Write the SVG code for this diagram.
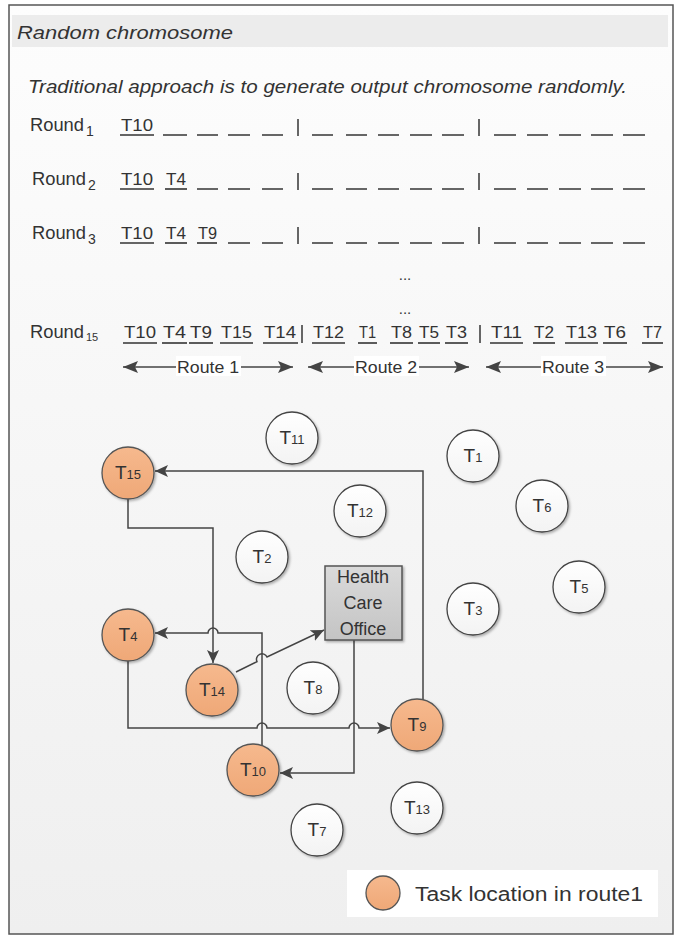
<svg xmlns="http://www.w3.org/2000/svg" width="680" height="937" viewBox="0 0 680 937">
<defs>
<linearGradient id="bg" x1="0" y1="0" x2="0" y2="1">
<stop offset="0" stop-color="#fdfdfd"/>
<stop offset="1" stop-color="#efefef"/>
</linearGradient>
<linearGradient id="wf" x1="0" y1="0" x2="0" y2="1">
<stop offset="0" stop-color="#ffffff"/>
<stop offset="1" stop-color="#f3f3f3"/>
</linearGradient>
<linearGradient id="of" x1="0" y1="0" x2="0" y2="1">
<stop offset="0" stop-color="#f6b98e"/>
<stop offset="1" stop-color="#efa877"/>
</linearGradient>
<linearGradient id="gf" x1="0" y1="0" x2="0" y2="1">
<stop offset="0" stop-color="#dadada"/>
<stop offset="1" stop-color="#c4c4c4"/>
</linearGradient>
<filter id="sh" x="-20%" y="-20%" width="150%" height="150%">
<feDropShadow dx="1.5" dy="1.5" stdDeviation="1.2" flood-color="#000" flood-opacity="0.3"/>
</filter>
<marker id="ah" markerUnits="userSpaceOnUse" markerWidth="14" markerHeight="12" refX="13" refY="6" orient="auto">
<path d="M0,0 L13,6 L0,12 L3,6 z" fill="#444"/>
</marker>
<marker id="rh" markerUnits="userSpaceOnUse" markerWidth="16" markerHeight="12" refX="15" refY="6" orient="auto-start-reverse">
<path d="M0,0 L15,6 L0,12 L3,6 z" fill="#444"/>
</marker>
</defs>
<style>
text{font-family:"Liberation Sans",Arial,sans-serif;fill:#333}
.it{font-style:italic}
.tok{font-size:17px}
.rd{font-size:18px}
.ul{stroke:#333;stroke-width:1.6}
.ds{stroke:#666;stroke-width:2.2}
.bar{stroke:#666;stroke-width:2}
.conn{fill:none;stroke:#444;stroke-width:1.5}
.cw{fill:url(#wf);stroke:#444;stroke-width:1.3;filter:url(#sh)}
.co{fill:url(#of);stroke:#555;stroke-width:1.3;filter:url(#sh)}
.lbT{font-size:19px;fill:#333}
.lbN{font-size:13px}
.rl{font-size:17px}
</style>

<rect x="9" y="5" width="664" height="929" fill="url(#bg)" stroke="#555" stroke-width="1.5"/>
<rect x="12" y="15" width="656" height="32" fill="#ececec"/>
<text class="it" x="17" y="39" font-size="19" textLength="216" lengthAdjust="spacingAndGlyphs">Random chromosome</text>
<text class="it" x="28" y="93" font-size="17.5" textLength="599" lengthAdjust="spacingAndGlyphs">Traditional approach is to generate output chromosome randomly.</text>

<g id="round1">
<text class="rd" x="30" y="131" textLength="54" lengthAdjust="spacingAndGlyphs">Round</text>
<text x="86" y="136" font-size="14">1</text>
<text class="tok" x="121" y="131" textLength="32" lengthAdjust="spacingAndGlyphs">T10</text>
<line class="ul" x1="120" y1="135" x2="154" y2="135"/>
<path class="ds" d="M163,135H187M197,135H218M228,135H250M262,135H283M312,135H333M346,135H367M378,135H399M410,135H432M442,135H464M494,135H516M527,135H548M559,135H581M591,135H613M623,135H645"/>
<path class="bar" d="M298,119V136M479,119V136"/>
</g>

<g id="round2">
<text class="rd" x="32" y="185" textLength="54" lengthAdjust="spacingAndGlyphs">Round</text>
<text x="88" y="190" font-size="14">2</text>
<text class="tok" x="121" y="185" textLength="32" lengthAdjust="spacingAndGlyphs">T10</text>
<line class="ul" x1="120" y1="189" x2="154" y2="189"/>
<text class="tok" x="166" y="185" textLength="20" lengthAdjust="spacingAndGlyphs">T4</text>
<line class="ul" x1="165" y1="189" x2="187" y2="189"/>
<path class="ds" d="M197,189H218M228,189H250M262,189H283M312,189H333M346,189H367M378,189H399M410,189H432M442,189H464M494,189H516M527,189H548M559,189H581M591,189H613M623,189H645"/>
<path class="bar" d="M298,173V190M479,173V190"/>
</g>

<g id="round3">
<text class="rd" x="32" y="239" textLength="54" lengthAdjust="spacingAndGlyphs">Round</text>
<text x="88" y="244" font-size="14">3</text>
<text class="tok" x="121" y="239" textLength="32" lengthAdjust="spacingAndGlyphs">T10</text>
<line class="ul" x1="120" y1="243" x2="154" y2="243"/>
<text class="tok" x="166" y="239" textLength="20" lengthAdjust="spacingAndGlyphs">T4</text>
<line class="ul" x1="165" y1="243" x2="187" y2="243"/>
<text class="tok" x="198" y="239" textLength="19" lengthAdjust="spacingAndGlyphs">T9</text>
<line class="ul" x1="197" y1="243" x2="217" y2="243"/>
<path class="ds" d="M228,243H250M262,243H283M312,243H333M346,243H367M378,243H399M410,243H432M442,243H464M494,243H516M527,243H548M559,243H581M591,243H613M623,243H645"/>
<path class="bar" d="M298,227V244M479,227V244"/>
</g>

<text x="405" y="280" font-size="15" text-anchor="middle">...</text>
<text x="405" y="314" font-size="15" text-anchor="middle">...</text>

<g id="round15">
<text class="rd" x="30" y="338" textLength="54" lengthAdjust="spacingAndGlyphs">Round</text>
<text x="86" y="341" font-size="11">15</text>
<text class="tok" x="124" y="338" textLength="32" lengthAdjust="spacingAndGlyphs">T10</text>
<line class="ul" x1="123" y1="343" x2="157" y2="343"/>
<text class="tok" x="163" y="338" textLength="23" lengthAdjust="spacingAndGlyphs">T4</text>
<line class="ul" x1="162" y1="343" x2="187" y2="343"/>
<text class="tok" x="190" y="338" textLength="22" lengthAdjust="spacingAndGlyphs">T9</text>
<line class="ul" x1="189" y1="343" x2="213" y2="343"/>
<text class="tok" x="221" y="338" textLength="31" lengthAdjust="spacingAndGlyphs">T15</text>
<line class="ul" x1="220" y1="343" x2="253" y2="343"/>
<text class="tok" x="264" y="338" textLength="32" lengthAdjust="spacingAndGlyphs">T14</text>
<line class="ul" x1="263" y1="343" x2="298" y2="343"/>
<path class="bar" d="M302,325V343M480,325V343"/>
<text class="tok" x="313" y="338" textLength="31" lengthAdjust="spacingAndGlyphs">T12</text>
<line class="ul" x1="312" y1="343" x2="345" y2="343"/>
<text class="tok" x="359" y="338" textLength="17" lengthAdjust="spacingAndGlyphs">T1</text>
<line class="ul" x1="358" y1="343" x2="377" y2="343"/>
<text class="tok" x="391" y="338" textLength="21" lengthAdjust="spacingAndGlyphs">T8</text>
<line class="ul" x1="390" y1="343" x2="413" y2="343"/>
<text class="tok" x="419" y="338" textLength="20" lengthAdjust="spacingAndGlyphs">T5</text>
<line class="ul" x1="418" y1="343" x2="440" y2="343"/>
<text class="tok" x="446" y="338" textLength="21" lengthAdjust="spacingAndGlyphs">T3</text>
<line class="ul" x1="445" y1="343" x2="468" y2="343"/>
<text class="tok" x="491" y="338" textLength="31" lengthAdjust="spacingAndGlyphs">T11</text>
<line class="ul" x1="490" y1="343" x2="523" y2="343"/>
<text class="tok" x="534" y="338" textLength="20" lengthAdjust="spacingAndGlyphs">T2</text>
<line class="ul" x1="533" y1="343" x2="555" y2="343"/>
<text class="tok" x="566" y="338" textLength="31" lengthAdjust="spacingAndGlyphs">T13</text>
<line class="ul" x1="565" y1="343" x2="598" y2="343"/>
<text class="tok" x="604" y="338" textLength="22" lengthAdjust="spacingAndGlyphs">T6</text>
<line class="ul" x1="603" y1="343" x2="627" y2="343"/>
<text class="tok" x="643" y="338" textLength="19" lengthAdjust="spacingAndGlyphs">T7</text>
<line class="ul" x1="642" y1="343" x2="663" y2="343"/>
</g>

<g id="routes">
<line x1="123" y1="367" x2="293" y2="367" stroke="#444" stroke-width="1.5" marker-start="url(#rh)" marker-end="url(#rh)"/>
<rect x="176" y="356" width="65" height="20" fill="#fff"/>
<text class="rl" x="208" y="373" text-anchor="middle" textLength="62" lengthAdjust="spacingAndGlyphs">Route 1</text>
<line x1="308" y1="367" x2="469" y2="367" stroke="#444" stroke-width="1.5" marker-start="url(#rh)" marker-end="url(#rh)"/>
<rect x="354" y="356" width="65" height="20" fill="#fff"/>
<text class="rl" x="386" y="373" text-anchor="middle" textLength="62" lengthAdjust="spacingAndGlyphs">Route 2</text>
<line x1="486" y1="367" x2="663" y2="367" stroke="#444" stroke-width="1.5" marker-start="url(#rh)" marker-end="url(#rh)"/>
<rect x="541" y="356" width="65" height="20" fill="#fff"/>
<text class="rl" x="573" y="373" text-anchor="middle" textLength="62" lengthAdjust="spacingAndGlyphs">Route 3</text>
</g>

<g id="connectors">
<path class="conn" d="M423,700 V471 H155" marker-end="url(#ah)"/>
<path class="conn" d="M128,499 V528 H213 V663" marker-end="url(#ah)"/>
<path class="conn" d="M262,746 V633 H218 A5,5 0 0 0 208,633 H155" marker-end="url(#ah)"/>
<path class="conn" d="M128,661 V728 H257 A5,5 0 0 1 267,728 H349 A5,5 0 0 1 359,728 H390" marker-end="url(#ah)"/>
<path class="conn" d="M354,640 V773 H280" marker-end="url(#ah)"/>
<path class="conn" d="M236,672 L257,661.7 A5.5,5.5 0 0 1 267,657 L324,630" marker-end="url(#ah)"/>
</g>

<g id="hco">
<rect x="325" y="566" width="77" height="74" fill="url(#gf)" stroke="#555" stroke-width="1.5" filter="url(#sh)"/>
<text x="363" y="583" font-size="18" text-anchor="middle">Health</text>
<text x="363" y="609" font-size="18" text-anchor="middle">Care</text>
<text x="363" y="635" font-size="18" text-anchor="middle">Office</text>
</g>

<g id="T15"><circle class="co" cx="128" cy="473" r="26"/><text class="lbT" x="128" y="479" text-anchor="middle">T<tspan class="lbN">15</tspan></text></g>
<g id="T11"><circle class="cw" cx="292" cy="438" r="26"/><text class="lbT" x="292" y="444" text-anchor="middle">T<tspan class="lbN">11</tspan></text></g>
<g id="T1"><circle class="cw" cx="473" cy="456" r="26"/><text class="lbT" x="473" y="462" text-anchor="middle">T<tspan class="lbN">1</tspan></text></g>
<g id="T6"><circle class="cw" cx="542" cy="506" r="26"/><text class="lbT" x="542" y="512" text-anchor="middle">T<tspan class="lbN">6</tspan></text></g>
<g id="T12"><circle class="cw" cx="360" cy="511" r="26"/><text class="lbT" x="360" y="517" text-anchor="middle">T<tspan class="lbN">12</tspan></text></g>
<g id="T2"><circle class="cw" cx="262" cy="557" r="26"/><text class="lbT" x="262" y="563" text-anchor="middle">T<tspan class="lbN">2</tspan></text></g>
<g id="T5"><circle class="cw" cx="579" cy="587" r="26"/><text class="lbT" x="579" y="593" text-anchor="middle">T<tspan class="lbN">5</tspan></text></g>
<g id="T3"><circle class="cw" cx="473" cy="609" r="26"/><text class="lbT" x="473" y="615" text-anchor="middle">T<tspan class="lbN">3</tspan></text></g>
<g id="T4"><circle class="co" cx="128" cy="635" r="26"/><text class="lbT" x="128" y="641" text-anchor="middle">T<tspan class="lbN">4</tspan></text></g>
<g id="T14"><circle class="co" cx="212" cy="690" r="26"/><text class="lbT" x="212" y="696" text-anchor="middle">T<tspan class="lbN">14</tspan></text></g>
<g id="T8"><circle class="cw" cx="313" cy="688" r="26"/><text class="lbT" x="313" y="694" text-anchor="middle">T<tspan class="lbN">8</tspan></text></g>
<g id="T9"><circle class="co" cx="417" cy="725" r="26"/><text class="lbT" x="417" y="731" text-anchor="middle">T<tspan class="lbN">9</tspan></text></g>
<g id="T10"><circle class="co" cx="253" cy="770" r="26"/><text class="lbT" x="253" y="776" text-anchor="middle">T<tspan class="lbN">10</tspan></text></g>
<g id="T13"><circle class="cw" cx="417" cy="808" r="26"/><text class="lbT" x="417" y="814" text-anchor="middle">T<tspan class="lbN">13</tspan></text></g>
<g id="T7"><circle class="cw" cx="317" cy="830" r="26"/><text class="lbT" x="317" y="836" text-anchor="middle">T<tspan class="lbN">7</tspan></text></g>

<g id="legend">
<rect x="347" y="870" width="311" height="47" fill="#fff"/>
<circle cx="383" cy="893" r="17" fill="url(#of)" stroke="#555" stroke-width="1.3"/>
<text x="415" y="901" font-size="20" textLength="228" lengthAdjust="spacingAndGlyphs">Task location in route1</text>
</g>
</svg>
